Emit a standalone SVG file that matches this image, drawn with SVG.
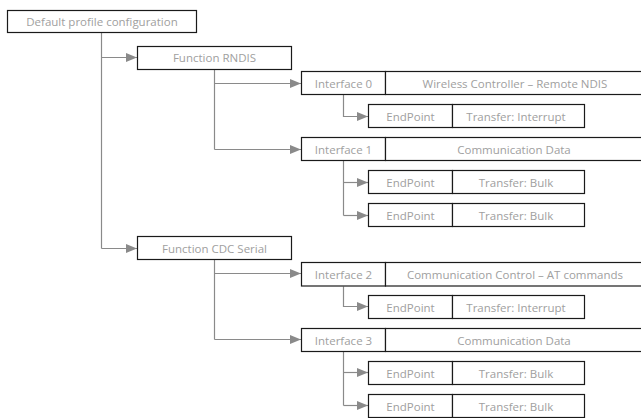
<svg xmlns="http://www.w3.org/2000/svg" width="641" height="418" viewBox="0 0 641 418">
<defs>
<marker id="arr" markerUnits="userSpaceOnUse" markerWidth="12" markerHeight="10" refX="11" refY="4.5" orient="auto">
<path d="M0,0 L11,4.5 L0,9 Z" fill="#8a8a8a"/>
</marker>
<style>
rect{fill:#fff;stroke:#1a1a1a;stroke-width:1.2}
text{font-family:"Open Sans","Noto Sans","Liberation Sans",sans-serif;font-size:11.5px;fill:#a0a0a0;text-anchor:middle}
.c{fill:none;stroke:#8a8a8a;stroke-width:1.2}
</style>
</defs>
<rect x="0" y="0" width="641" height="418" style="fill:#fff;stroke:none"/>
<g id="connectors">
<path class="c" d="M101.5,32.5 V248.5"/>
<path class="c" d="M101.5,57.5 H137" marker-end="url(#arr)"/>
<path class="c" d="M101.5,248.5 H137" marker-end="url(#arr)"/>
<path class="c" d="M214.5,69.5 V149.5"/>
<path class="c" d="M214.5,83.5 H301" marker-end="url(#arr)"/>
<path class="c" d="M214.5,149.5 H301" marker-end="url(#arr)"/>
<path class="c" d="M343.5,94.5 V116.5 H368" marker-end="url(#arr)"/>
<path class="c" d="M343.5,160.5 V215.5"/>
<path class="c" d="M343.5,182.5 H368" marker-end="url(#arr)"/>
<path class="c" d="M343.5,215.5 H368" marker-end="url(#arr)"/>
<path class="c" d="M214.5,259.5 V339.5"/>
<path class="c" d="M214.5,273.5 H301" marker-end="url(#arr)"/>
<path class="c" d="M214.5,339.5 H301" marker-end="url(#arr)"/>
<path class="c" d="M343.5,286.5 V306.5 H368" marker-end="url(#arr)"/>
<path class="c" d="M343.5,351.5 V405.5"/>
<path class="c" d="M343.5,372.5 H368" marker-end="url(#arr)"/>
<path class="c" d="M343.5,405.5 H368" marker-end="url(#arr)"/>
</g>
<g id="default-profile">
<rect x="7.5" y="10.5" width="189" height="22"/>
<text x="102" y="25.5">Default profile configuration</text>
</g>
<g id="function-rndis">
<rect x="137.5" y="46.5" width="154" height="23"/>
<text x="214.5" y="62">Function RNDIS</text>
</g>
<g id="interface-0">
<rect x="301.5" y="71.5" width="84" height="23"/>
<text x="343.5" y="87.5">Interface 0</text>
<rect x="385.5" y="71.5" width="262" height="23"/>
<text x="515" y="87.5">Wireless Controller – Remote NDIS</text>
</g>
<g id="ep-0">
<rect x="368.5" y="104.5" width="84" height="23"/>
<text x="410.5" y="120.5">EndPoint</text>
<rect x="452.5" y="104.5" width="132" height="23"/>
<text x="516" y="120.5">Transfer: Interrupt</text>
</g>
<g id="interface-1">
<rect x="301.5" y="137.5" width="84" height="23"/>
<text x="343.5" y="153.5">Interface 1</text>
<rect x="385.5" y="137.5" width="262" height="23"/>
<text x="514" y="153.5">Communication Data</text>
</g>
<g id="ep-1a">
<rect x="368.5" y="170.5" width="84" height="23"/>
<text x="410.5" y="186.5">EndPoint</text>
<rect x="452.5" y="170.5" width="132" height="23"/>
<text x="516" y="186.5">Transfer: Bulk</text>
</g>
<g id="ep-1b">
<rect x="368.5" y="203.5" width="84" height="23"/>
<text x="410.5" y="219.5">EndPoint</text>
<rect x="452.5" y="203.5" width="132" height="23"/>
<text x="516" y="219.5">Transfer: Bulk</text>
</g>
<g id="function-cdc">
<rect x="137.5" y="236.5" width="154" height="23"/>
<text x="214.5" y="252.5">Function CDC Serial</text>
</g>
<g id="interface-2">
<rect x="301.5" y="262.5" width="84" height="23.5"/>
<text x="343.5" y="278.5">Interface 2</text>
<rect x="385.5" y="262.5" width="262" height="23.5"/>
<text x="515" y="278.5">Communication Control – AT commands</text>
</g>
<g id="ep-2">
<rect x="368.5" y="295.5" width="84" height="23"/>
<text x="410.5" y="311.5">EndPoint</text>
<rect x="452.5" y="295.5" width="132" height="23"/>
<text x="516" y="311.5">Transfer: Interrupt</text>
</g>
<g id="interface-3">
<rect x="301.5" y="328.5" width="84" height="23"/>
<text x="343.5" y="344.5">Interface 3</text>
<rect x="385.5" y="328.5" width="262" height="23"/>
<text x="514" y="344.5">Communication Data</text>
</g>
<g id="ep-3a">
<rect x="368.5" y="361.5" width="84" height="23"/>
<text x="410.5" y="377.5">EndPoint</text>
<rect x="452.5" y="361.5" width="132" height="23"/>
<text x="516" y="377.5">Transfer: Bulk</text>
</g>
<g id="ep-3b">
<rect x="368.5" y="394.5" width="84" height="23"/>
<text x="410.5" y="410.5">EndPoint</text>
<rect x="452.5" y="394.5" width="132" height="23"/>
<text x="516" y="410.5">Transfer: Bulk</text>
</g>
</svg>
